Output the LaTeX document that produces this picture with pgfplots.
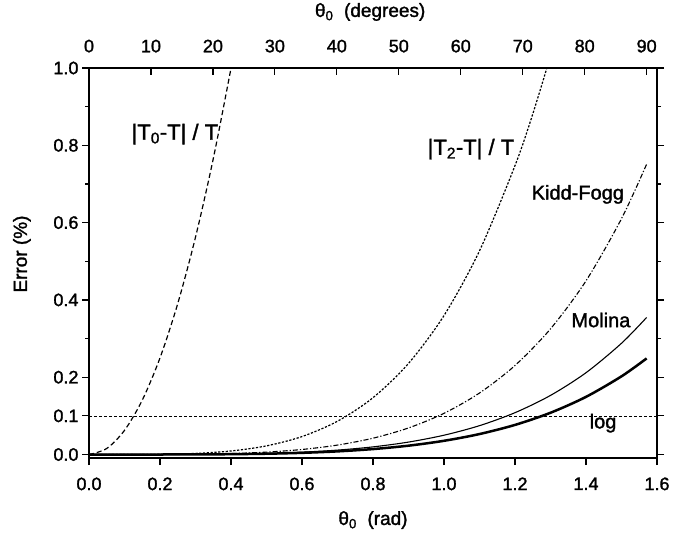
\documentclass[border=0pt]{standalone}
\usepackage{fontspec}
\setmainfont{Liberation Sans}[UprightFeatures={FakeBold=1.5}]
\usepackage{pgfplots}
\pgfplotsset{compat=1.18}

\begin{document}
\begin{tikzpicture}
\path[use as bounding box] (-89pt,-74pt) rectangle (595pt,458pt);
\begin{axis}[
  at={(0pt,0pt)}, anchor=south west,
  scale only axis, width=568pt, height=390pt,
  xmin=0, xmax=1.6, ymin=-0.009, ymax=1.0,
  xtick={0,0.2,0.4,0.6,0.8,1.0,1.2,1.4,1.6},
  ytick={0,0.1,0.2,0.4,0.6,0.8,1.0},
  minor ytick={0.3,0.5,0.7,0.9},
  xtick pos=bottom, ytick pos=both, yticklabel pos=left,
  tick align=outside,
  major tick length=7pt, minor tick length=4pt,
  every tick/.style={black, line width=1.2pt},
  axis line style={line width=1.3pt},
  x tick label style={yshift=-9pt, /pgf/number format/fixed, /pgf/number format/fixed zerofill, /pgf/number format/precision=1},
  y tick label style={/pgf/number format/fixed, /pgf/number format/fixed zerofill, /pgf/number format/precision=1},
  /pgf/number format/assume math mode=true,
  tick label style={font=\fontsize{18}{20}\selectfont},
  label style={font=\fontsize{19}{22}\selectfont},
  xlabel={θ\textsubscript{0}\ \ (rad)},
  xlabel style={at={(axis description cs:0.5,-0.159)}, anchor=center},
  ylabel={Error (\%)},
  ylabel style={at={(axis description cs:-0.118,0.523)}, anchor=center},
]
% |T0-T|/T
\addplot[line width=1.2pt, dash pattern=on 5pt off 3pt, smooth] coordinates {
  (0,0) (0.05,0.015624) (0.1,0.062497) (0.15,0.140608) (0.2,0.249948)
  (0.25,0.390499) (0.3,0.562239) (0.35,0.765142) (0.4,0.99918) (0.41,1.04972)};
% |T2-T|/T
\addplot[line width=1.2pt, dash pattern=on 2.2pt off 1.6pt, smooth] coordinates {
  (0,0) (0.1,0.0000358) (0.2,0.000573) (0.3,0.002901) (0.4,0.009171)
  (0.5,0.022398) (0.6,0.046464) (0.7,0.086124) (0.8,0.147019) (0.9,0.235683)
  (1.0,0.359567) (1.1,0.527063) (1.2,0.747536) (1.25,0.880842) (1.3,1.031369)};
% Kidd-Fogg
\addplot[line width=1.1pt, dash pattern=on 5pt off 2pt on 1.2pt off 2pt, smooth] coordinates {
  (0,0) (0.2,0.000157) (0.3,0.000797) (0.4,0.002534) (0.5,0.006234)
  (0.6,0.013048) (0.7,0.024448) (0.8,0.042261) (0.9,0.068730) (1.0,0.106587)
  (1.1,0.159131) (1.2,0.230363) (1.3,0.325136) (1.4,0.449354) (1.5,0.610241)
  (1.5708,0.75118)};
% Molina
\addplot[line width=1.1pt, smooth] coordinates {
  (0,0) (0.2,0.000073) (0.3,0.000372) (0.4,0.001183) (0.5,0.002912)
  (0.6,0.006099) (0.7,0.011435) (0.8,0.019780) (0.9,0.032195) (1.0,0.049971)
  (1.1,0.074679) (1.2,0.108227) (1.3,0.152938) (1.4,0.211648) (1.5,0.287842)
  (1.5708,0.35468)};
% log
\addplot[line width=2.5pt, smooth] coordinates {
  (0,0) (0.2,0.000052) (0.3,0.000266) (0.4,0.000845) (0.5,0.002078)
  (0.6,0.004349) (0.7,0.008148) (0.8,0.014082) (0.9,0.022896) (1.0,0.035495)
  (1.1,0.052967) (1.2,0.076628) (1.3,0.108061) (1.4,0.149179) (1.5,0.202300)
  (1.5708,0.24869)};
% 0.1 % level
\addplot[line width=0.5pt, dash pattern=on 3pt off 2pt] coordinates {(0,0.1) (1.6,0.1)};

\node[font=\fontsize{22}{25}\selectfont] at (axis cs:0.242,0.829) {|T\textsubscript{0}-T| / T};
\node[font=\fontsize{22}{25}\selectfont] at (axis cs:1.076,0.79) {|T\textsubscript{2}-T| / T};
\node[font=\fontsize{20}{23}\selectfont] at (axis cs:1.377,0.673) {Kidd-Fogg};
\node[font=\fontsize{20}{23}\selectfont] at (axis cs:1.442,0.348) {Molina};
\node[font=\fontsize{20}{23}\selectfont] at (axis cs:1.448,0.081) {log};
\end{axis}

\begin{axis}[
  at={(0pt,0pt)}, anchor=south west,
  scale only axis, width=568pt, height=390pt,
  xmin=0, xmax=91.6732, ymin=0, ymax=1,
  axis x line=top, axis y line=none,
  x axis line style={draw=none},
  xtick={0,10,20,30,40,50,60,70,80,90},
  tick align=inside,
  major tick length=7pt,
  every tick/.style={black, line width=1.2pt},
  /pgf/number format/assume math mode=true,
  tick label style={font=\fontsize{18}{20}\selectfont, yshift=12pt},
  label style={font=\fontsize{19}{22}\selectfont},
  xlabel={θ\textsubscript{0}\ \ (degrees)},
  xlabel style={at={(axis description cs:0.495,1.1436)}, anchor=center},
]
\addplot[draw=none] coordinates {(0,0) (90,1)};
\end{axis}
\end{tikzpicture}
\end{document}
